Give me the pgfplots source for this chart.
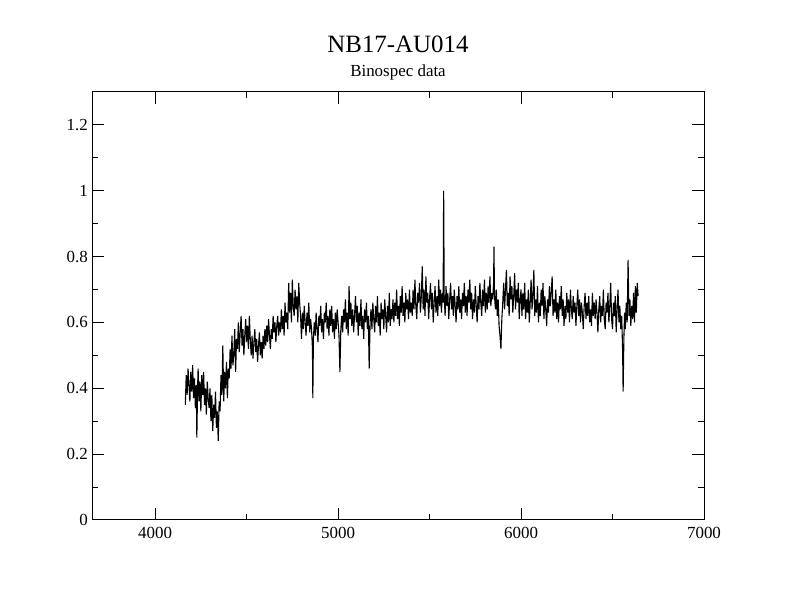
\documentclass[border=0pt]{standalone}
\usepackage{fontspec}
\setmainfont{Liberation Serif}
\usepackage{pgfplots}
\pgfplotsset{compat=1.18}
\begin{document}
\begin{tikzpicture}
\useasboundingbox (0,0) rectangle (792bp,612bp);
\begin{axis}[
  at={(92bp,92bp)}, anchor=south west,
  width=612bp, height=428bp, scale only axis,
  xmin=3655, xmax=7000, ymin=0, ymax=1.3,
  xtick={4000,5000,6000,7000},
  ytick={0,0.2,0.4,0.6,0.8,1,1.2},
  minor tick num=1,
  tick align=inside,
  major tick length=12bp, minor tick length=6bp,
  axis line style={line width=1bp},
  every tick/.style={black, line width=1bp},
  /pgf/number format/assume math mode=true,
  /pgf/number format/1000 sep={},
  tick label style={font=\fontsize{17}{20}\selectfont},
  xticklabel style={inner sep=0pt, anchor=north, yshift=-7bp},
  yticklabel style={inner sep=0pt, anchor=east, xshift=-4bp},
]
\addplot[black, line width=1.1bp, line join=bevel] coordinates {
(4165,0.35)(4170,0.44)(4175,0.38)(4180,0.46)(4185,0.41)(4190,0.36)(4195,0.45)(4200,0.39)
(4205,0.47)(4210,0.37)(4215,0.43)(4220,0.34)(4225,0.41)(4228,0.25)(4232,0.40)(4235,0.46)
(4240,0.36)(4245,0.42)(4250,0.33)(4255,0.44)(4260,0.38)(4265,0.45)(4270,0.35)(4275,0.40)
(4280,0.32)(4285,0.42)(4290,0.37)(4295,0.34)(4300,0.40)(4305,0.30)(4310,0.38)(4315,0.27)
(4320,0.35)(4325,0.31)(4330,0.39)(4335,0.28)(4340,0.33)(4345,0.24)(4350,0.36)(4355,0.33)
(4360,0.44)(4365,0.38)(4370,0.53)(4375,0.36)(4380,0.45)(4385,0.40)(4390,0.48)(4395,0.37)
(4400,0.46)(4405,0.43)(4410,0.52)(4415,0.46)(4420,0.56)(4425,0.47)(4430,0.50)(4435,0.58)
(4440,0.45)(4445,0.55)(4450,0.52)(4455,0.60)(4460,0.51)(4465,0.57)(4470,0.62)(4475,0.53)
(4480,0.58)(4485,0.50)(4490,0.56)(4495,0.61)(4500,0.54)(4505,0.59)(4510,0.52)(4515,0.62)
(4520,0.55)(4525,0.50)(4530,0.56)(4535,0.49)(4540,0.54)(4545,0.58)(4550,0.51)(4555,0.55)
(4560,0.48)(4565,0.53)(4570,0.57)(4575,0.50)(4580,0.54)(4585,0.49)(4590,0.56)(4595,0.52)
(4600,0.58)(4605,0.53)(4610,0.59)(4615,0.54)(4620,0.61)(4625,0.56)(4630,0.52)(4635,0.58)
(4640,0.55)(4645,0.62)(4650,0.57)(4655,0.60)(4660,0.54)(4665,0.59)(4670,0.62)(4675,0.56)
(4680,0.60)(4685,0.57)(4690,0.64)(4695,0.58)(4700,0.62)(4705,0.56)(4710,0.66)(4715,0.60)
(4720,0.63)(4725,0.58)(4730,0.72)(4735,0.63)(4740,0.69)(4745,0.60)(4750,0.73)(4755,0.65)
(4760,0.62)(4765,0.70)(4770,0.64)(4775,0.68)(4780,0.60)(4785,0.72)(4790,0.66)(4795,0.62)
(4800,0.55)(4805,0.63)(4810,0.58)(4815,0.65)(4820,0.60)(4825,0.56)(4830,0.63)(4835,0.59)
(4840,0.66)(4845,0.57)(4850,0.61)(4855,0.58)(4860,0.52)(4862,0.37)(4865,0.55)(4870,0.60)
(4875,0.56)(4880,0.63)(4885,0.58)(4890,0.54)(4895,0.62)(4900,0.59)(4905,0.65)(4910,0.57)
(4915,0.61)(4920,0.55)(4925,0.63)(4930,0.60)(4935,0.66)(4940,0.58)(4945,0.62)(4950,0.56)
(4955,0.64)(4960,0.59)(4965,0.65)(4970,0.57)(4975,0.61)(4980,0.55)(4985,0.63)(4990,0.58)
(4995,0.64)(5000,0.60)(5005,0.56)(5010,0.45)(5015,0.58)(5020,0.62)(5025,0.57)(5030,0.64)
(5035,0.60)(5040,0.67)(5045,0.58)(5050,0.63)(5055,0.56)(5060,0.71)(5065,0.61)(5070,0.66)
(5075,0.59)(5080,0.64)(5085,0.57)(5090,0.62)(5095,0.68)(5100,0.60)(5105,0.65)(5110,0.56)
(5115,0.63)(5120,0.59)(5125,0.67)(5130,0.58)(5135,0.62)(5140,0.55)(5145,0.64)(5150,0.60)
(5155,0.66)(5160,0.58)(5165,0.62)(5170,0.46)(5175,0.60)(5180,0.64)(5185,0.58)(5190,0.66)
(5195,0.61)(5200,0.57)(5205,0.65)(5210,0.60)(5215,0.68)(5220,0.59)(5225,0.63)(5230,0.56)
(5235,0.66)(5240,0.61)(5245,0.64)(5250,0.58)(5255,0.67)(5260,0.62)(5265,0.57)(5270,0.65)
(5275,0.60)(5280,0.69)(5285,0.59)(5290,0.64)(5295,0.61)(5300,0.67)(5305,0.60)(5310,0.66)
(5315,0.62)(5320,0.70)(5325,0.61)(5330,0.65)(5335,0.59)(5340,0.68)(5345,0.63)(5350,0.71)
(5355,0.62)(5360,0.66)(5365,0.60)(5370,0.69)(5375,0.64)(5380,0.67)(5385,0.61)(5390,0.70)
(5395,0.63)(5400,0.66)(5405,0.62)(5410,0.70)(5415,0.64)(5420,0.73)(5425,0.65)(5430,0.61)
(5435,0.69)(5440,0.66)(5445,0.72)(5450,0.63)(5455,0.68)(5460,0.77)(5465,0.64)(5470,0.70)
(5475,0.62)(5480,0.74)(5485,0.66)(5490,0.69)(5495,0.61)(5500,0.67)(5505,0.72)(5510,0.64)
(5515,0.69)(5520,0.60)(5525,0.66)(5530,0.71)(5535,0.63)(5540,0.68)(5545,0.62)(5550,0.73)
(5555,0.65)(5560,0.70)(5565,0.63)(5570,0.69)(5574,0.66)(5577,1.00)(5580,0.68)(5585,0.62)
(5590,0.71)(5595,0.65)(5600,0.69)(5605,0.61)(5610,0.67)(5615,0.72)(5620,0.64)(5625,0.68)
(5630,0.62)(5635,0.70)(5640,0.65)(5645,0.60)(5650,0.68)(5655,0.64)(5660,0.71)(5665,0.63)
(5670,0.67)(5675,0.61)(5680,0.69)(5685,0.65)(5690,0.72)(5695,0.63)(5700,0.68)(5705,0.62)
(5710,0.70)(5715,0.66)(5720,0.73)(5725,0.64)(5730,0.69)(5735,0.61)(5740,0.67)(5745,0.63)
(5750,0.71)(5755,0.65)(5760,0.60)(5765,0.68)(5770,0.64)(5775,0.72)(5780,0.66)(5785,0.62)
(5790,0.70)(5795,0.65)(5800,0.73)(5805,0.63)(5810,0.69)(5815,0.64)(5820,0.71)(5825,0.66)
(5830,0.74)(5835,0.65)(5840,0.69)(5845,0.67)(5850,0.72)(5852,0.83)(5855,0.68)(5860,0.64)
(5865,0.70)(5870,0.62)(5875,0.67)(5880,0.59)(5885,0.56)(5890,0.52)(5895,0.61)(5900,0.66)
(5905,0.72)(5910,0.64)(5915,0.70)(5920,0.76)(5925,0.65)(5930,0.69)(5935,0.62)(5940,0.74)
(5945,0.67)(5950,0.71)(5955,0.63)(5960,0.68)(5965,0.75)(5970,0.64)(5975,0.70)(5980,0.66)
(5985,0.72)(5990,0.61)(5995,0.67)(6000,0.70)(6005,0.62)(6010,0.69)(6015,0.64)(6020,0.72)
(6025,0.61)(6030,0.67)(6035,0.63)(6040,0.70)(6045,0.60)(6050,0.66)(6055,0.73)(6060,0.64)
(6065,0.68)(6070,0.76)(6075,0.62)(6080,0.67)(6085,0.63)(6090,0.71)(6095,0.60)(6100,0.66)
(6105,0.62)(6110,0.70)(6115,0.65)(6120,0.72)(6125,0.61)(6130,0.68)(6135,0.64)(6140,0.59)
(6145,0.67)(6150,0.63)(6155,0.71)(6160,0.65)(6165,0.69)(6170,0.74)(6175,0.62)(6180,0.67)
(6185,0.63)(6190,0.70)(6195,0.61)(6200,0.66)(6205,0.60)(6210,0.68)(6215,0.64)(6220,0.71)
(6225,0.62)(6230,0.67)(6235,0.59)(6240,0.65)(6245,0.61)(6250,0.69)(6255,0.63)(6260,0.67)
(6265,0.60)(6270,0.70)(6275,0.64)(6280,0.61)(6285,0.68)(6290,0.63)(6295,0.66)(6300,0.59)
(6305,0.65)(6310,0.70)(6315,0.62)(6320,0.67)(6325,0.60)(6330,0.66)(6335,0.63)(6340,0.58)
(6345,0.65)(6350,0.69)(6355,0.61)(6360,0.66)(6365,0.62)(6370,0.68)(6375,0.60)(6380,0.64)
(6385,0.59)(6390,0.69)(6395,0.62)(6400,0.66)(6405,0.61)(6410,0.67)(6415,0.63)(6420,0.57)
(6425,0.64)(6430,0.68)(6435,0.60)(6440,0.65)(6445,0.62)(6450,0.70)(6455,0.61)(6460,0.58)
(6465,0.66)(6470,0.63)(6475,0.69)(6480,0.60)(6485,0.65)(6490,0.72)(6495,0.61)(6500,0.58)
(6505,0.66)(6510,0.62)(6515,0.68)(6520,0.57)(6525,0.64)(6530,0.70)(6535,0.60)(6540,0.65)
(6545,0.58)(6550,0.62)(6555,0.52)(6558,0.39)(6562,0.55)(6566,0.63)(6570,0.58)(6575,0.66)
(6580,0.60)(6585,0.79)(6590,0.62)(6595,0.67)(6600,0.59)(6605,0.65)(6610,0.61)(6615,0.69)
(6620,0.60)(6625,0.71)(6630,0.63)(6635,0.72)(6640,0.68)
};
\end{axis}
\node[anchor=base, inner sep=0pt, font=\fontsize{25}{30}\selectfont] at (398bp,559bp) {NB17-AU014};
\node[anchor=base, inner sep=0pt, font=\fontsize{17}{20}\selectfont] at (398bp,535bp) {Binospec data};
\end{tikzpicture}
\end{document}
